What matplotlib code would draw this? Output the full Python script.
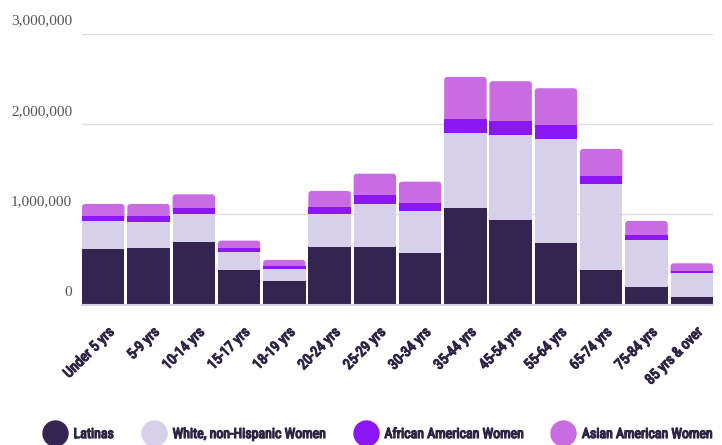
import numpy as np
import matplotlib
matplotlib.use("Agg")
import matplotlib.pyplot as plt
import matplotlib.patheffects as pe
from matplotlib import font_manager
from matplotlib.lines import Line2D
from matplotlib.patches import FancyBboxPatch
from matplotlib.ticker import FuncFormatter
from matplotlib.transforms import ScaledTranslation

age_groups = ["Under 5 yrs", "5-9 yrs", "10-14 yrs", "15-17 yrs", "18-19 yrs",
              "20-24 yrs", "25-29 yrs", "30-34 yrs", "35-44 yrs", "45-54 yrs",
              "55-64 yrs", "65-74 yrs", "75-84 yrs", "85 yrs & over"]

# values in thousands of women
latinas = [615, 622, 689, 379, 257, 640, 640, 567, 1065, 932, 678, 379, 194, 86]
white = [310, 295, 313, 199, 133, 362, 473, 468, 838, 945, 1158, 952, 520, 266]
african = [58, 63, 63, 44, 40, 81, 100, 89, 151, 155, 148, 95, 56, 22]
asian = [130, 133, 155, 85, 63, 174, 235, 236, 465, 440, 410, 296, 155, 82]

series_names = ["Latinas", "White, non-Hispanic Women",
                "African American Women", "Asian American Women"]
colors = ["#33254f", "#d6d0ea", "#8b17f5", "#c96be3"]
text_dark = "#2e2445"


def pick_narrow_font():
    # look for a condensed face, the labels in the original are very narrow
    fonts = font_manager.fontManager.ttflist
    names = {f.name for f in fonts}
    for n in ["Roboto Condensed", "Liberation Sans Narrow", "Open Sans Condensed",
              "Noto Sans Condensed", "Arial Narrow"]:
        if n in names:
            return n, "normal"
    for f in fonts:
        if f.stretch == "condensed" or "Condensed" in f.name or "Narrow" in f.name:
            return f.name, f.stretch
    return "DejaVu Sans", "normal"


narrow_name, narrow_stretch = pick_narrow_font()
narrow = [narrow_name, "DejaVu Sans"]
heavy = [pe.withStroke(linewidth=0.9, foreground=text_dark)]

fig = plt.figure(figsize=(7.22, 4.45), dpi=100)
ax = fig.add_axes([82 / 722, 140.5 / 445, 631 / 722, 271 / 445])

x = np.arange(len(age_groups))
bar_w = 0.9375
bottom = np.zeros(len(x))
all_series = [latinas, white, african, asian]
for i, (vals, color, name) in enumerate(zip(all_series, colors, series_names)):
    vals = np.array(vals) * 1000
    bars = ax.bar(x, vals, width=bar_w, bottom=bottom, color=color, label=name,
                  linewidth=0, zorder=2)
    if i == len(all_series) - 1:
        # top segment gets slightly rounded corners, drawn down behind the segment below
        for r in bars:
            r.set_visible(False)
            low = r.get_y() - 60_000
            ax.add_patch(FancyBboxPatch((r.get_x(), low), r.get_width(),
                                        r.get_y() + r.get_height() - low,
                                        boxstyle="round,pad=0,rounding_size=0.07",
                                        mutation_aspect=480_000,
                                        facecolor=color, linewidth=0, zorder=1.9))
    bottom += vals

ax.set_xlim(-0.47, len(x) - 1 + 0.47)
ax.set_ylim(0, 3_000_000)
ax.set_yticks([0, 1_000_000, 2_000_000, 3_000_000])
ax.yaxis.set_major_formatter(FuncFormatter(lambda v, p: f"{int(v):,}"))
ax.yaxis.grid(True, color="#dedede", linewidth=1)
ax.set_axisbelow(True)

for s in ["top", "right", "left"]:
    ax.spines[s].set_visible(False)
ax.spines["bottom"].set_color("#d6d0ea")
ax.spines["bottom"].set_linewidth(1.5)
ax.spines["bottom"].set_zorder(3)

ax.tick_params(axis="y", length=0, pad=7, labelsize=11, labelcolor="#555555")
for lab in ax.get_yticklabels():
    lab.set_fontfamily(["Liberation Serif", "DejaVu Serif"])
    lab.set_transform(lab.get_transform() + ScaledTranslation(0, 0.14, fig.dpi_scale_trans))

ax.set_xticks(x)
ax.set_xticklabels(age_groups, rotation=45, ha="right", va="center",
                   rotation_mode="anchor", fontsize=10.5,
                   fontstretch=narrow_stretch, color=text_dark, family=narrow)
ax.tick_params(axis="x", length=0, pad=18)
for lab in ax.get_xticklabels():
    lab.set_path_effects(heavy)
    lab.set_transform(lab.get_transform() + ScaledTranslation(0.09, 0, fig.dpi_scale_trans))

handles = [Line2D([], [], marker="o", linestyle="", markersize=18,
                  markerfacecolor=c, markeredgecolor=c) for c in colors]
fig.legend(handles, series_names, loc="center", bbox_to_anchor=(377 / 722, 11 / 445),
           ncol=4, frameon=False, handletextpad=0.45, columnspacing=2.0,
           handlelength=1.8, borderpad=0,
           prop={"family": narrow, "size": 10, "stretch": narrow_stretch})
for t in fig.legends[0].get_texts():
    t.set_color(text_dark)
    t.set_path_effects(heavy)

fig.savefig("out.png", dpi=100)
